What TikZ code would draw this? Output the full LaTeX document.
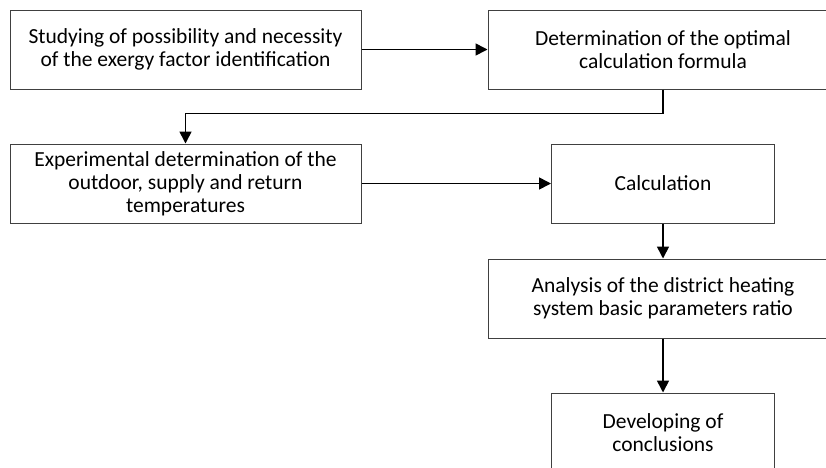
\documentclass[tikz,border=0pt]{standalone}
\usepackage{fontspec}
\setmainfont{Carlito}
\usetikzlibrary{arrows.meta, calc}

\tikzset{
    stagebox/.style={draw=black!75, line width=1pt, fill=white, align=center,
        inner sep=0pt, font=\fontsize{21.5}{23}\selectfont},
    flowarrow/.style={black, line width=1.6pt,
        -{Triangle[length=12pt, width=12pt]}},
}

\begin{document}
\begin{tikzpicture}[x=1pt, y=-1pt]

    % --- Dimensions ---
    \def\WideW{351}
    \def\MidW{223}
    \def\BoxH{79}
    \def\LeftX{185.5}
    \def\RightX{663}

    % --- Frame (the picture is cut at the right and bottom) ---
    \useasboundingbox (0,0) rectangle (826,467);
    \clip (0,0) rectangle (826,467);

    % --- Stages ---
    \node[stagebox, minimum width=\WideW, minimum height=\BoxH] (study) at (\LeftX, 49.5)
        {Studying of possibility and necessity\\of the exergy factor identification};
    \node[stagebox, minimum width=350, minimum height=\BoxH] (formula) at (\RightX, 49.5)
        {Determination of the optimal\\calculation formula};

    \node[stagebox, minimum width=\WideW, minimum height=\BoxH] (measure) at (\LeftX, 183.5)
        {Experimental determination of the\\outdoor, supply and return\\temperatures};
    \node[stagebox, minimum width=\MidW, minimum height=\BoxH] (calc) at (\RightX, 183.5)
        {Calculation};

    \node[stagebox, minimum width=350, minimum height=\BoxH] (analysis) at (\RightX, 298.5)
        {Analysis of the district heating\\system basic parameters ratio};

    \node[stagebox, minimum width=\MidW, minimum height=\BoxH] (concl) at (\RightX, 432.5)
        {Developing of\\conclusions};

    % --- Connectors ---
    \draw[flowarrow] (study.east) -- (formula.west);
    \draw[flowarrow] (formula.south) -- ++(0,24) -| (measure.north);
    \draw[flowarrow] (measure.east) -- (calc.west);
    \draw[flowarrow] (calc.south) -- (analysis.north);
    \draw[flowarrow] (analysis.south) -- (concl.north);

\end{tikzpicture}
\end{document}
